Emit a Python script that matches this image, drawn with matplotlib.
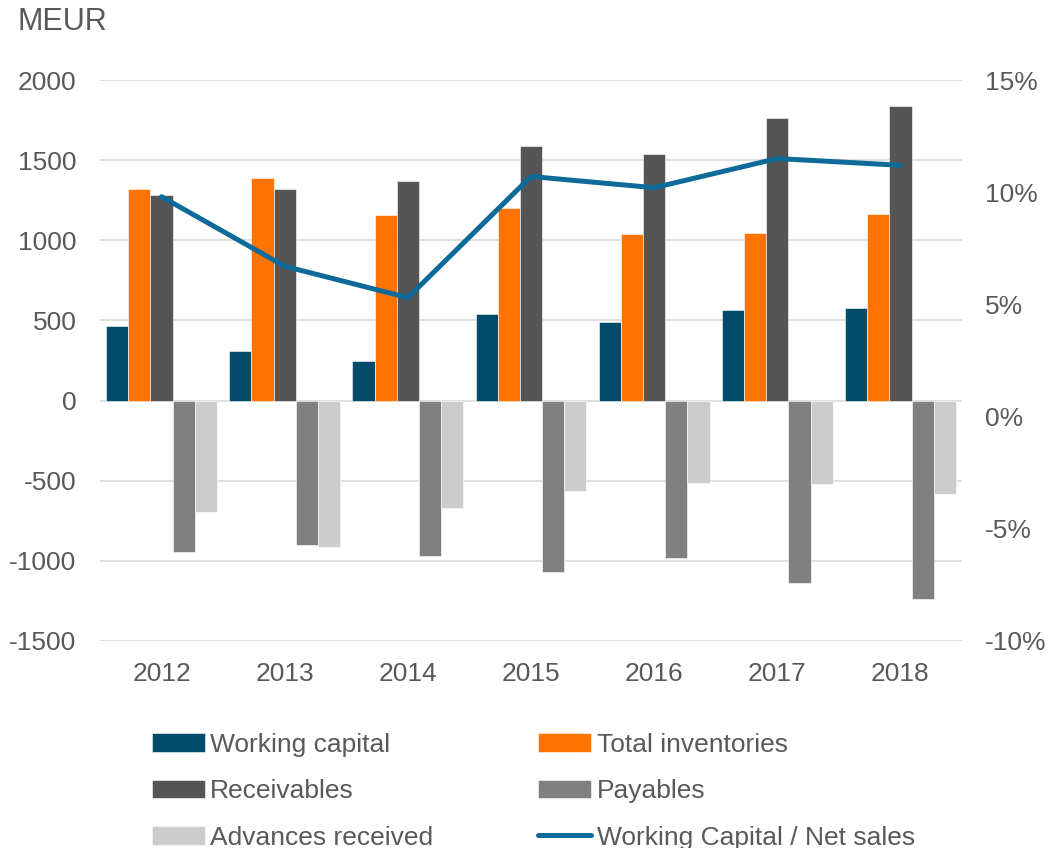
import numpy as np
import matplotlib.pyplot as plt

plt.rcParams['font.family'] = ['Liberation Sans', 'DejaVu Sans']
plt.rcParams['axes.unicode_minus'] = False

years = ['2012', '2013', '2014', '2015', '2016', '2017', '2018']
working_capital = [465, 312, 250, 543, 493, 562, 580]
total_inventories = [1322, 1390, 1158, 1202, 1042, 1048, 1165]
receivables = [1285, 1317, 1367, 1591, 1541, 1766, 1835]
payables = [-942, -899, -967, -1067, -980, -1136, -1236]
advances_received = [-693, -911, -668, -562, -512, -518, -580]
wc_to_sales = [9.8, 6.7, 5.3, 10.7, 10.2, 11.5, 11.2]  # percent

text_col = '#595959'
series = [
    ('Working capital', working_capital, '#024B6B'),
    ('Total inventories', total_inventories, '#FF7300'),
    ('Receivables', receivables, '#555555'),
    ('Payables', payables, '#808080'),
    ('Advances received', advances_received, '#CCCCCC'),
]

fig = plt.figure(figsize=(10.51, 8.48), dpi=100)
ax = fig.add_axes([100 / 1051, 1 - 641 / 848, 862 / 1051, 561 / 848])

x = np.arange(len(years))
w = 0.18
bars = []
for i, (name, vals, col) in enumerate(series):
    b = ax.bar(x + (i - 2) * w, vals, w, color=col, label=name,
               edgecolor='white', linewidth=0.4, zorder=3)
    bars.append(b)

ax.set_xlim(-0.5, len(years) - 0.5)
ax.set_ylim(-1500, 2000)
ax.set_yticks(np.arange(-1500, 2001, 500))
ax.set_xticks(x)
ax.set_xticklabels(years)
ax.grid(axis='y', color='#D9D9D9', linewidth=1.2, zorder=0)
ax.tick_params(length=0, labelsize=19, colors=text_col)
ax.tick_params(axis='y', pad=17)
ax.tick_params(axis='x', pad=15)
for s in ax.spines.values():
    s.set_visible(False)

ax2 = ax.twinx()
line, = ax2.plot(x, wc_to_sales, color='#0E6A99', linewidth=3.6,
                 label='Working Capital / Net sales', solid_capstyle='round', zorder=5)
ax2.set_ylim(-10, 15)
ax2.set_yticks(np.arange(-10, 16, 5))
ax2.set_yticklabels([f'{v}%' for v in range(-10, 16, 5)])
ax2.tick_params(length=0, labelsize=19, colors=text_col, pad=16.5)
for s in ax2.spines.values():
    s.set_visible(False)

fig.text(17 / 1051, 1 - 22 / 848, 'MEUR', fontsize=22, color=text_col, va='center', ha='left')

handles = [bars[0], bars[2], bars[4], bars[1], bars[3], line]
labels = [h.get_label() for h in handles]
leg = fig.legend(handles, labels, ncol=2, loc='upper left',
                 bbox_to_anchor=(128 / 1051, 1 - 709 / 848), frameon=False,
                 fontsize=19, handlelength=2.0, handletextpad=0.2,
                 columnspacing=4.0, labelspacing=0.85)
for t in leg.get_texts():
    t.set_color(text_col)

fig.savefig('out.png', dpi=100)
